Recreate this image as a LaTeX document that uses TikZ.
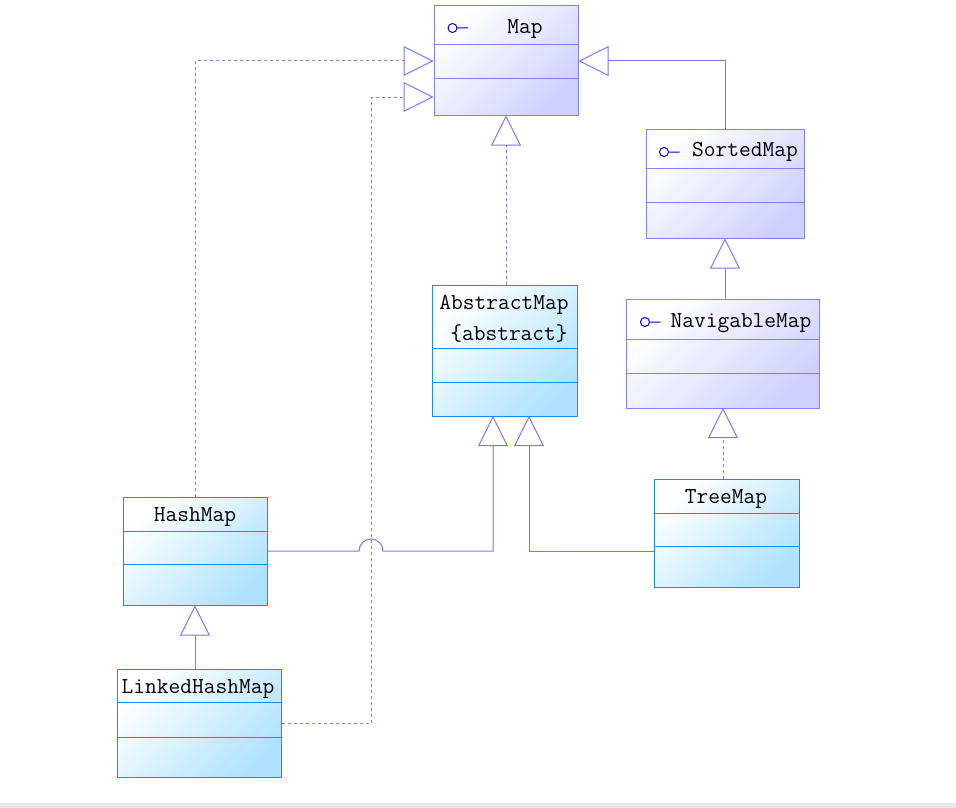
\documentclass[tikz,border=0pt]{standalone}
\usepackage{fontspec}
\usetikzlibrary{arrows.meta, positioning}

\definecolor{ifaceline}{HTML}{8080FF}
\definecolor{ifacefill}{HTML}{D0D0FF}
\definecolor{classline}{HTML}{1E88F5}
\definecolor{classfill}{HTML}{B0E2FF}
\definecolor{relline}{HTML}{7878FF}

\begin{document}
\begin{tikzpicture}[
                x=1pt, y=-1pt,
                >={Triangle[open, length=30pt, width=30pt]},
                font=\ttfamily\fontsize{22.8}{26}\selectfont,
                iface/.style={draw=ifaceline, line width=1pt, top color=white, bottom color=ifacefill, shading angle=45},
                umlclass/.style={draw=classline, line width=1pt, top color=white, bottom color=classfill, shading angle=45},
                title/.style={inner sep=0pt, anchor=center, yshift=-2pt},
                realize/.style={->, draw=relline, line width=1pt, dash pattern=on 3pt off 3pt},
                extend/.style={->, draw=relline, line width=1pt}
              ]
              \useasboundingbox (0,0) rectangle (956,808);
              \fill[black!9] (0,803) rectangle (956,808);

              % Interfaces
              \node[iface, minimum width=144pt, minimum height=109pt] (map) at (506,60.5) {};
              \node[iface, minimum width=158pt, minimum height=109pt] (sorted) at (725,183.5) {};
              \node[iface, minimum width=193pt, minimum height=109pt] (navigable) at (722.5,353.5) {};

              % Classes
              \node[umlclass, minimum width=145pt, minimum height=131pt] (abstract) at (504.5,350.5) {};
              \node[umlclass, minimum width=144pt, minimum height=108pt] (hashmap) at (195,551) {};
              \node[umlclass, minimum width=164pt, minimum height=108pt] (linked) at (199,723) {};
              \node[umlclass, minimum width=145pt, minimum height=108pt] (treemap) at (726.5,533) {};

              % Compartments
              \foreach \n/\a/\b in {map/45/79, sorted/168/202, navigable/339/373}
                \draw[ifaceline, line width=1pt] (\n.west |- 0,\a) -- (\n.east |- 0,\a)
                  (\n.west |- 0,\b) -- (\n.east |- 0,\b);
              \foreach \n/\a/\b in {abstract/348/382, hashmap/531/564, linked/702/737, treemap/513/546}
                \draw[classline, line width=1pt] (\n.west |- 0,\a) -- (\n.east |- 0,\a)
                  (\n.west |- 0,\b) -- (\n.east |- 0,\b);

              % Names
              \node[title] (maptitle) at (525,27) {Map};
              \node[title] (sortedtitle) at (745,150) {SortedMap};
              \node[title] (navigabletitle) at (741,321) {NavigableMap};
              \node[title] (abstracttitle) at (504,303) {AbstractMap};
              \node[title] (abstracttag) at (509,332) {\{abstract\}};
              \node[title] (hashmaptitle) at (195,515) {HashMap};
              \node[title] (linkedtitle) at (198,687) {LinkedHashMap};
              \node[title] (treemaptitle) at (726,497) {TreeMap};

              % Interface marks
              \foreach \cx/\cy in {452.5/28, 664/152, 645/322}
                \draw[blue, line width=1pt] (\cx,\cy) circle[radius=4.5pt] (\cx+4.5,\cy) -- +(11,0);

              % Relations
              \coordinate (hashbend) at (hashmap.north |- 0,61);
              \draw[realize] (hashmap.north) -- (hashbend) -- (hashbend -| map.west);
              \coordinate (linkedbend) at (371,97);
              \draw[realize] (linked.east) -- (linked.east -| linkedbend) -- (linkedbend) -- (linkedbend -| map.west);
              \coordinate (sortedbend) at (sorted.north |- 0,61);
              \draw[extend] (sorted.north) -- (sortedbend) -- (sortedbend -| map.east);
              \draw[realize] (abstract.north -| map.south) -- (map.south);
              \draw[extend] (navigable.north -| sorted.south) -- (sorted.south);
              \coordinate (treetop) at (723,408);
              \draw[realize] (treemap.north -| treetop) -- (treetop);
              \draw[extend] (linked.north -| hashmap.south) -- (hashmap.south);
              \coordinate (hashleg) at (493,416);
              \draw[extend] (hashmap.east) -- (359,551) arc[start angle=180, end angle=0, radius=12pt]
                -- (hashmap.east -| hashleg) -- (hashleg);
              \coordinate (treeleg) at (529,416);
              \draw[extend] (treemap.west |- hashmap.east) -- (hashmap.east -| treeleg) -- (treeleg);
              \end{tikzpicture}
\end{document}
